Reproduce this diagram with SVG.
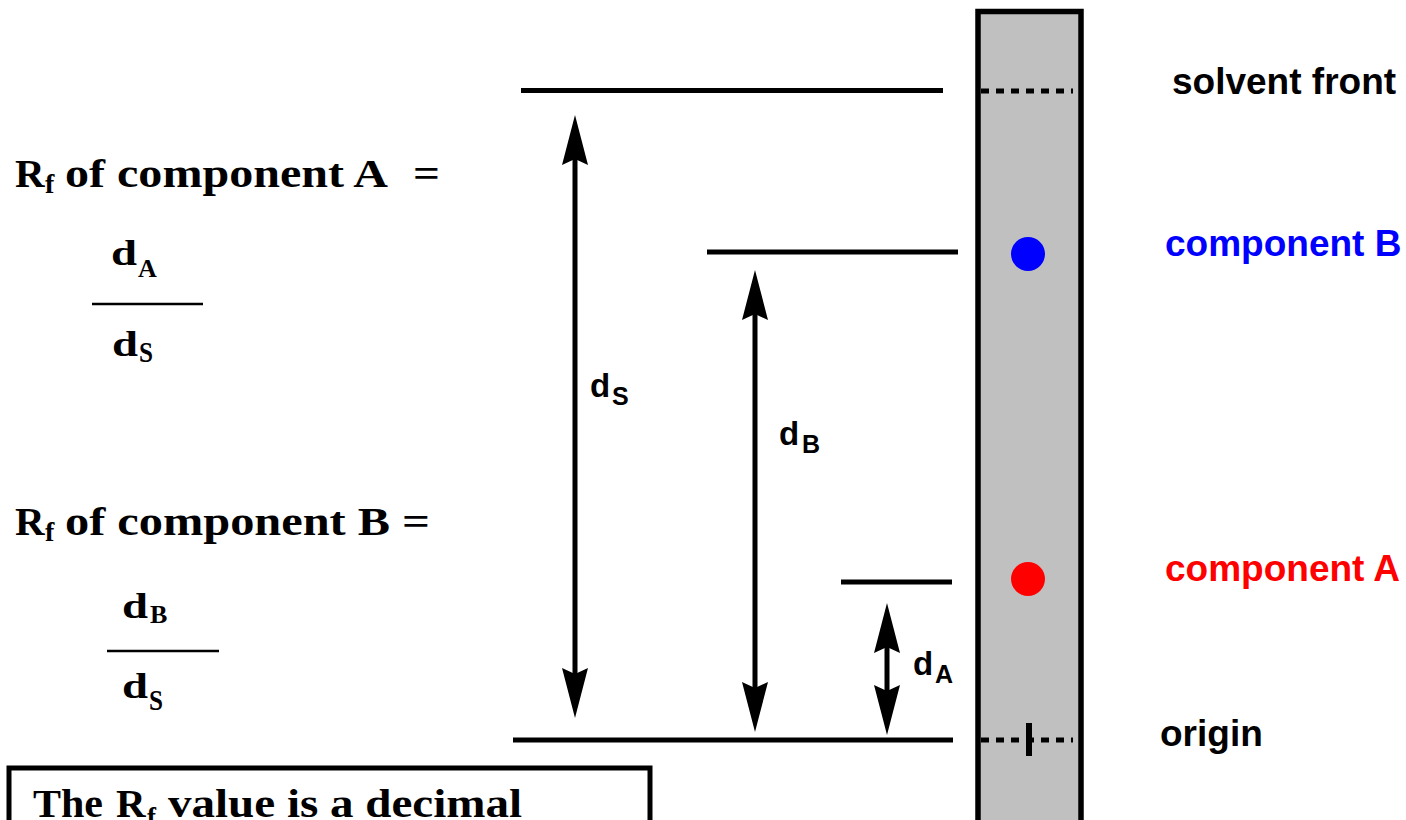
<svg xmlns="http://www.w3.org/2000/svg" width="1406" height="820" viewBox="0 0 1406 820">
  <style>
    .serif { font-family: "Liberation Serif", "Times New Roman", serif; font-weight: bold; fill: #000; }
    .sans { font-family: "Liberation Sans", Arial, sans-serif; font-weight: bold; }
    .lvl { stroke: #000; stroke-width: 5; fill: none; }
    .arr { stroke: #000; stroke-width: 5; fill: none; marker-start: url(#head); marker-end: url(#head); }
    .dash { stroke: #000; stroke-width: 5; stroke-dasharray: 8 7; fill: none; }
    .frac { stroke: #000; stroke-width: 2.5; }
  </style>
  <defs>
    <marker id="head" markerUnits="userSpaceOnUse" markerWidth="52" markerHeight="28" viewBox="0 0 52 28" refX="30" refY="14" orient="auto-start-reverse">
      <path d="M0,1 L50,14 L0,27 L6,14 Z" fill="#000"/>
    </marker>
  </defs>
  <rect width="1406" height="820" fill="#fff"/>

  <!-- TLC plate -->
  <g id="plate">
    <rect x="978" y="11.5" width="103" height="830" fill="#c0c0c0" stroke="#000" stroke-width="5.5"/>
    <line class="dash" x1="981" y1="91" x2="1073" y2="91"/>
    <line class="dash" x1="981" y1="740" x2="1073" y2="740"/>
    <line x1="1029" y1="723" x2="1029" y2="756" stroke="#000" stroke-width="6"/>
  </g>
  <g id="spotB"><circle cx="1028" cy="254" r="17" fill="#0000ff"/></g>
  <g id="spotA"><circle cx="1028" cy="579" r="17" fill="#ff0000"/></g>

  <!-- level lines -->
  <g id="level-lines">
    <line class="lvl" x1="521" y1="90.5" x2="943" y2="90.5"/>
    <line class="lvl" x1="707" y1="252" x2="958" y2="252"/>
    <line class="lvl" x1="841" y1="582" x2="952" y2="582"/>
    <line class="lvl" x1="513" y1="740" x2="953" y2="740"/>
  </g>

  <!-- distance arrows -->
  <g id="connectors">
    <line class="arr" x1="575" y1="135" x2="575" y2="698"/>
    <line class="arr" x1="755" y1="290" x2="755" y2="712"/>
    <line class="arr" x1="887" y1="623" x2="887" y2="715"/>
  </g>

  <g id="label-dS" class="sans">
    <text x="590" y="397" font-size="33">d</text>
    <text x="612" y="405" font-size="25">S</text>
  </g>
  <g id="label-dB" class="sans">
    <text x="779" y="445" font-size="33">d</text>
    <text x="802" y="453" font-size="25">B</text>
  </g>
  <g id="label-dA" class="sans">
    <text x="913" y="675" font-size="33">d</text>
    <text x="935" y="683" font-size="25">A</text>
  </g>

  <!-- right labels -->
  <g id="label-solvent-front"><text class="sans" x="1172" y="94" font-size="37" fill="#000">solvent front</text></g>
  <g id="label-component-B"><text class="sans" x="1165" y="256" font-size="37" fill="#0000ff">component B</text></g>
  <g id="label-component-A"><text class="sans" x="1165" y="581" font-size="37" fill="#ff0000">component A</text></g>
  <g id="label-origin"><text class="sans" x="1160" y="746" font-size="37" fill="#000">origin</text></g>

  <!-- Rf of component A -->
  <g id="formula-A" class="serif">
    <text x="15" y="187" font-size="41">R</text>
    <text x="45" y="193" font-size="28">f</text>
    <text x="65" y="187" font-size="41" textLength="323" lengthAdjust="spacingAndGlyphs">of component A</text>
    <text x="413" y="187" font-size="41" textLength="27" lengthAdjust="spacingAndGlyphs">=</text>
    <text x="111" y="265" font-size="36" textLength="26" lengthAdjust="spacingAndGlyphs">d</text>
    <text x="138" y="277" font-size="26">A</text>
    <line class="frac" x1="92" y1="304" x2="203" y2="304"/>
    <text x="112" y="356" font-size="36" textLength="26" lengthAdjust="spacingAndGlyphs">d</text>
    <text x="139" y="362" font-size="29" textLength="14" lengthAdjust="spacingAndGlyphs">S</text>
  </g>

  <!-- Rf of component B -->
  <g id="formula-B" class="serif">
    <text x="15" y="535" font-size="41">R</text>
    <text x="45" y="541" font-size="28">f</text>
    <text x="65" y="535" font-size="41" textLength="325" lengthAdjust="spacingAndGlyphs">of component B</text>
    <text x="402" y="535" font-size="41" textLength="28" lengthAdjust="spacingAndGlyphs">=</text>
    <text x="122" y="618" font-size="36" textLength="26" lengthAdjust="spacingAndGlyphs">d</text>
    <text x="150" y="623" font-size="26">B</text>
    <line class="frac" x1="107" y1="651" x2="219" y2="651"/>
    <text x="122" y="698" font-size="36" textLength="26" lengthAdjust="spacingAndGlyphs">d</text>
    <text x="149" y="710" font-size="29" textLength="14" lengthAdjust="spacingAndGlyphs">S</text>
  </g>

  <!-- note box -->
  <g id="note-box">
    <rect x="9" y="768" width="641" height="100" fill="#fff" stroke="#000" stroke-width="5"/>
    <text class="serif" x="33" y="817" font-size="41" textLength="70" lengthAdjust="spacingAndGlyphs">The</text>
    <text class="serif" x="116" y="817" font-size="41">R</text>
    <text class="serif" x="147" y="826" font-size="27">f</text>
    <text class="serif" x="168" y="817" font-size="41" textLength="354" lengthAdjust="spacingAndGlyphs">value is a decimal</text>
  </g>
</svg>
